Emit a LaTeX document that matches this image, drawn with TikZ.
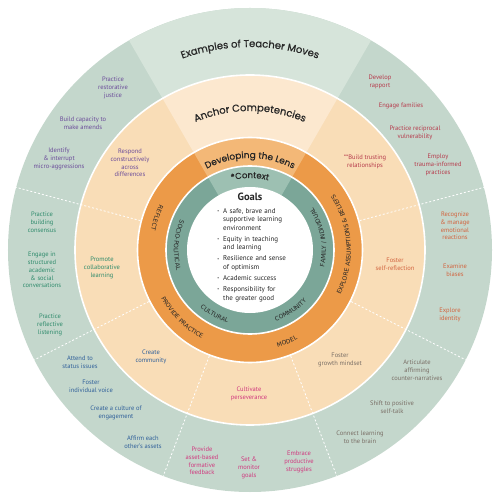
\documentclass[tikz,border=0pt]{standalone}
\usepackage{fontspec}
\setmainfont{PT Sans}
\newfontfamily\headfont{Poppins}[FakeBold=0.7]
\newfontfamily\capfont{DejaVu Sans}
\usetikzlibrary{positioning, decorations.text}

\definecolor{outerg}{HTML}{C4D7CC}
\definecolor{outerh}{HTML}{D6E4DA}
\definecolor{anchp}{HTML}{F9DDB7}
\definecolor{anchh}{HTML}{FCE8CF}
\definecolor{lensb}{HTML}{EC9A48}
\definecolor{lensh}{HTML}{F3B877}
\definecolor{ctxb}{HTML}{7BA698}
\definecolor{ctxh}{HTML}{9DC0B2}
\definecolor{cpurple}{HTML}{6B4C9A}
\definecolor{cred}{HTML}{B63A4B}
\definecolor{corange}{HTML}{D2643F}
\definecolor{cgray}{HTML}{7A6F66}
\definecolor{cmagenta}{HTML}{D0397F}
\definecolor{cblue}{HTML}{30609A}
\definecolor{cgreen}{HTML}{2F8B6C}
\definecolor{cdark}{HTML}{262626}

\newcommand{\movefont}{\fontsize{6.5}{7.8}\selectfont}
\newcommand{\goalfont}{\fontsize{7}{8.5}\selectfont}
\newcommand{\gb}{\noindent\llap{\raisebox{0.6pt}{\fontsize{4}{4}\selectfont\textbullet}\hspace{4pt}}}
\newcommand{\gsep}{\par\vspace{2.6pt}}
\newcommand{\arctext}[5]{%
  \path[decorate, decoration={text along path, text align=center,
    text={|#4|#5}}] (#2:#1) arc[start angle=#2, end angle=#3, radius=#1];}

\begin{document}
\begin{tikzpicture}[
  x=1pt, y=1pt,
  move/.style={font=\movefont, align=center, inner sep=0pt},
  goal/.style={font=\goalfont, align=left, inner sep=0pt, text width=90pt},
  divider/.style={white, line width=0.8pt, dash pattern=on 2pt off 2pt},
  gap/.style={white, line width=1.6pt}
]
  \useasboundingbox (-250,-250) rectangle (250,250);

  \foreach \r/\base/\head in {242/outerg/outerh, 175/anchp/anchh,
    112.5/lensb/lensh, 84/ctxb/ctxh} {
    \fill[\base] (0,0) circle[radius=\r];
    \fill[\head] (0,0) -- (60:\r) arc[start angle=60, end angle=120, radius=\r] -- cycle;
  }
  \fill[white] (0,0) circle[radius=63];
  \foreach \r in {175, 112.5, 84}
    \draw[gap] (0,0) circle[radius=\r];
  \foreach \a in {15, 165, 207, 249, 291, 333}
    \draw[divider] (\a:113.5) -- (\a:242);

  \arctext{203}{125}{55}{\headfont\fontsize{10}{12}\selectfont\color{cdark}}{Examples of Teacher Moves}
  \arctext{139}{130}{50}{\headfont\fontsize{10}{12}\selectfont\color{cdark}}{Anchor Competencies}
  \arctext{92}{135}{45}{\headfont\fontsize{9}{11}\selectfont\color{cdark}}{Developing the Lens}
  \arctext{72}{140}{40}{\headfont\fontsize{8.5}{10}\selectfont\color{cdark}}{*Context}

  \arctext{101}{131}{191}{\capfont\fontsize{6}{7}\selectfont\color{cdark}}{REFLECT}
  \arctext{101}{195}{255}{\capfont\fontsize{6}{7}\selectfont\color{cdark}}{PROVIDE PRACTICE}
  \arctext{101}{262}{322}{\capfont\fontsize{6}{7}\selectfont\color{cdark}}{MODEL}
  \arctext{101}{-45}{52}{\capfont\fontsize{6}{7}\selectfont\color{cdark}}{EXPLORE ASSUMPTIONS {\&} BELIEFS}
  \arctext{76}{141}{211}{\capfont\fontsize{6}{7}\selectfont\color{cdark}}{SOCIO-POLITICAL}
  \arctext{76}{211}{271}{\capfont\fontsize{6}{7}\selectfont\color{cdark}}{CULTURAL}
  \arctext{76}{274}{334}{\capfont\fontsize{6}{7}\selectfont\color{cdark}}{COMMUNITY}
  \arctext{76}{-30}{51}{\capfont\fontsize{6}{7}\selectfont\color{cdark}}{FAMILY / INDIVIDUAL}

  \node[font=\bfseries\fontsize{10.5}{12}\selectfont, inner sep=0pt, cdark] (goals) at (0,53) {Goals};
  \node[goal, anchor=north west, cdark] (goallist) at (-27,42) {%
    \gb A safe, brave and\\supportive learning\\environment\gsep
    \gb Equity in teaching\\and learning\gsep
    \gb Resilience and sense\\of optimism\gsep
    \gb Academic success\gsep
    \gb Responsibility for\\the greater good};

  \node[move, cpurple] (justice) at (-137,162) {Practice\\restorative\\justice};
  \node[move, cpurple] (amends) at (-167,127) {Build capacity to\\make amends};
  \node[move, cpurple] (micro) at (-191,91) {Identify\\\& interrupt\\micro-aggressions};
  \node[move, cpurple] (respond) at (-120,87) {Respond\\constructively\\across\\differences};

  \node[move, cred] (rapport) at (130,168) {Develop\\rapport};
  \node[move, cred] (families) at (151,144) {Engage families};
  \node[move, cred] (vulner) at (165,117) {Practice reciprocal\\vulnerability};
  \node[move, cred] (trauma) at (188,85) {Employ\\trauma-informed\\practices};
  \node[move, cred] (trust) at (115,88) {**Build trusting\\relationships};

  \node[move, corange] (emotion) at (205,24) {Recognize\\\& manage\\emotional\\reactions};
  \node[move, corange] (biases) at (205,-20) {Examine\\biases};
  \node[move, corange] (identity) at (200,-65) {Explore\\identity};
  \node[move, corange] (selfref) at (145,-14) {Foster\\self-reflection};

  \node[move, cgray] (counter) at (167,-120) {Articulate\\affirming\\counter-narratives};
  \node[move, cgray] (selftalk) at (142,-157) {Shift to positive\\self-talk};
  \node[move, cgray] (brain) at (110,-187) {Connect learning\\to the brain};
  \node[move, cgray] (mindset) at (90,-110) {Foster\\growth mindset};

  \node[move, cmagenta] (feedback) at (-48,-211) {Provide\\asset-based\\formative\\feedback};
  \node[move, cmagenta] (goalset) at (-1,-218) {Set \&\\monitor\\goals};
  \node[move, cmagenta] (struggle) at (49,-212) {Embrace\\productive\\struggles};
  \node[move, cmagenta] (persev) at (-1,-144) {Cultivate\\perseverance};

  \node[move, cblue] (status) at (-170,-112) {Attend to\\status issues};
  \node[move, cblue] (voice) at (-159,-136) {Foster\\individual voice};
  \node[move, cblue] (culture) at (-134,-163) {Create a culture of\\engagement};
  \node[move, cblue] (affirm) at (-107,-192) {Affirm each\\other's assets};
  \node[move, cblue] (commun) at (-99,-107) {Create\\community};

  \node[move, cgreen] (consensus) at (-208,28) {Practice\\building\\consensus};
  \node[move, cgreen] (engage) at (-208,-20) {Engage in\\structured\\academic\\\& social\\conversations};
  \node[move, cgreen] (listen) at (-200,-75) {Practice\\reflective\\listening};
  \node[move, cgreen] (collab) at (-148,-18) {Promote\\collaborative\\learning};
\end{tikzpicture}
\end{document}
